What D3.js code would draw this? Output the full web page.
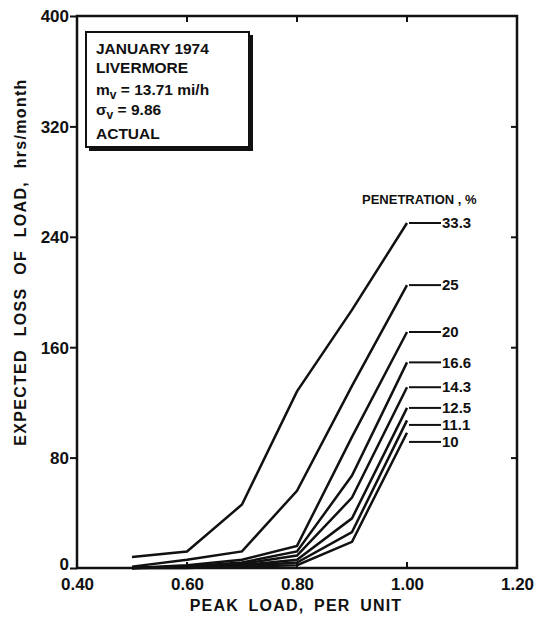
<!DOCTYPE html>
<html>
<head>
<meta charset="utf-8">
<script src="https://cdn.jsdelivr.net/npm/d3@7"></script>
<style>
  body { margin: 0; background: #fff; }
  text { font-family: "Liberation Sans", Arial, sans-serif; font-weight: bold; fill: #111; }
</style>
</head>
<body>
<div id="chart"></div>
<script>
// Data
var peakLoad = [0.5, 0.6, 0.7, 0.8, 0.9, 1.0];
var penetration = ["33.3", "25", "20", "16.6", "14.3", "12.5", "11.1", "10"];
var pen333 = [8, 12, 46, 128, 187, 250];
var pen25 = [1, 6, 12, 56, 132, 205];
var pen20 = [0, 2, 6, 16, 95, 171];
var pen166 = [0, 1, 4, 12, 67, 149];
var pen143 = [0, 1, 3, 9, 51, 131];
var pen125 = [0, 0.5, 2, 6, 36, 116];
var pen111 = [0, 0.5, 1.5, 4, 26, 107];
var pen10 = [0, 0, 1, 2, 19, 98];
var xTicks = [0.4, 0.6, 0.8, 1.0, 1.2];
var xTickLabels = ["0.40", "0.60", "0.80", "1.00", "1.20"];
var yTicks = [0, 80, 160, 240, 320, 400];
var boxLines = ["JANUARY 1974", "LIVERMORE", "m_v = 13.71 mi/h", "σ_v = 9.86", "ACTUAL"];

var seriesValues = [pen333, pen25, pen20, pen166, pen143, pen125, pen111, pen10];

var W = 534, H = 618;
var svg = d3.select("#chart").append("svg")
    .attr("width", W)
    .attr("height", H);

var x = d3.scaleLinear().domain([0.4, 1.2]).range([77, 517]);
var y = d3.scaleLinear().domain([0, 400]).range([568, 16]);

// frame
svg.append("rect")
    .attr("x", x(0.4)).attr("y", y(400))
    .attr("width", x(1.2) - x(0.4)).attr("height", y(0) - y(400))
    .attr("fill", "none").attr("stroke", "#111").attr("stroke-width", 2.5);

// left axis, ticks outside
var yAxis = svg.append("g")
    .attr("transform", "translate(" + x(0.4) + ",0)")
    .call(d3.axisLeft(y).tickValues(yTicks).tickSize(7).tickPadding(1).tickFormat(d3.format("d")));
yAxis.select(".domain").remove();
yAxis.selectAll("line").attr("stroke", "#111").attr("stroke-width", 2);
yAxis.selectAll("text").style("font-size", "17px")
    .attr("dy", d => d === 0 ? "0.1em" : "0.35em");

// right axis, ticks inside
var yAxisR = svg.append("g")
    .attr("transform", "translate(" + x(1.2) + ",0)")
    .call(d3.axisLeft(y).tickValues(yTicks.slice(1, 5)).tickSize(6).tickFormat(""));
yAxisR.select(".domain").remove();
yAxisR.selectAll("line").attr("x2", -6).attr("stroke", "#111").attr("stroke-width", 2);

// bottom axis, ticks inside
var xAxis = svg.append("g")
    .attr("transform", "translate(0," + y(0) + ")")
    .call(d3.axisBottom(x).tickValues(xTicks).tickSize(0).tickPadding(8)
        .tickFormat(function(d, i) { return xTickLabels[i]; }));
xAxis.select(".domain").remove();
xAxis.selectAll("text").style("font-size", "17px").attr("dy", "0.8em");
svg.append("g").selectAll("line")
    .data(xTicks.slice(1, 4))
    .enter().append("line")
    .attr("x1", d => x(d)).attr("x2", d => x(d))
    .attr("y1", y(0)).attr("y2", y(0) - 6)
    .attr("stroke", "#111").attr("stroke-width", 2);

// top axis, ticks inside
svg.append("g").selectAll("line")
    .data(xTicks.slice(1, 4))
    .enter().append("line")
    .attr("x1", d => x(d)).attr("x2", d => x(d))
    .attr("y1", y(400)).attr("y2", y(400) + 6)
    .attr("stroke", "#111").attr("stroke-width", 2);

// axis titles
svg.append("text")
    .attr("transform", "translate(26," + 262 + ") rotate(-90)")
    .attr("text-anchor", "middle")
    .style("font-size", "16px")
    .style("letter-spacing", "1.3px")
    .style("word-spacing", "7px")
    .text("EXPECTED LOSS OF LOAD, hrs/month");

svg.append("text")
    .attr("x", 296).attr("y", 611)
    .attr("text-anchor", "middle")
    .style("font-size", "16px")
    .style("letter-spacing", "1.2px")
    .style("word-spacing", "4px")
    .text("PEAK LOAD, PER UNIT");

// curves
var line = d3.line()
    .x((d, i) => x(peakLoad[i]))
    .y(d => y(d));

svg.append("g").selectAll("path")
    .data(seriesValues)
    .enter().append("path")
    .attr("d", d => line(d))
    .attr("fill", "none")
    .attr("stroke", "#111")
    .attr("stroke-width", 2.5)
    .attr("stroke-linejoin", "miter");

// penetration labels with leaders, pushed apart when they crowd
var lastY = -100;
var labelG = svg.append("g");
seriesValues.forEach(function(vals, i) {
    var ly = Math.max(y(vals[vals.length - 1]), lastY + 17);
    lastY = ly;
    labelG.append("line")
        .attr("x1", x(1.0) + 2).attr("x2", x(1.0) + 34)
        .attr("y1", ly).attr("y2", ly)
        .attr("stroke", "#111").attr("stroke-width", 2);
    labelG.append("text")
        .attr("x", x(1.0) + 35).attr("y", ly)
        .attr("dy", "0.35em")
        .style("font-size", "15px")
        .text(penetration[i]);
});

svg.append("text")
    .attr("x", 362).attr("y", 204)
    .style("font-size", "13px")
    .text("PENETRATION , %");

// info box with drop shadow
svg.append("rect")
    .attr("x", 89).attr("y", 35).attr("width", 164).attr("height", 116)
    .attr("fill", "#111");
svg.append("rect")
    .attr("x", 86).attr("y", 32).attr("width", 163).attr("height", 115)
    .attr("fill", "#fff").attr("stroke", "#111").attr("stroke-width", 2);

var boxText = svg.append("g").style("font-size", "15.5px");
var baselines = [54, 73, 95, 115, 139];
boxLines.forEach(function(s, i) {
    var t = boxText.append("text").attr("x", 96).attr("y", baselines[i]);
    if (s.indexOf("_v") > 0) {
        var parts = s.split("_v");
        t.append("tspan").text(parts[0]);
        t.append("tspan").attr("dy", 4).style("font-size", "12px").text("v");
        t.append("tspan").attr("dy", -4).text(parts[1]);
    } else {
        t.text(s);
    }
});
</script>
</body>
</html>
